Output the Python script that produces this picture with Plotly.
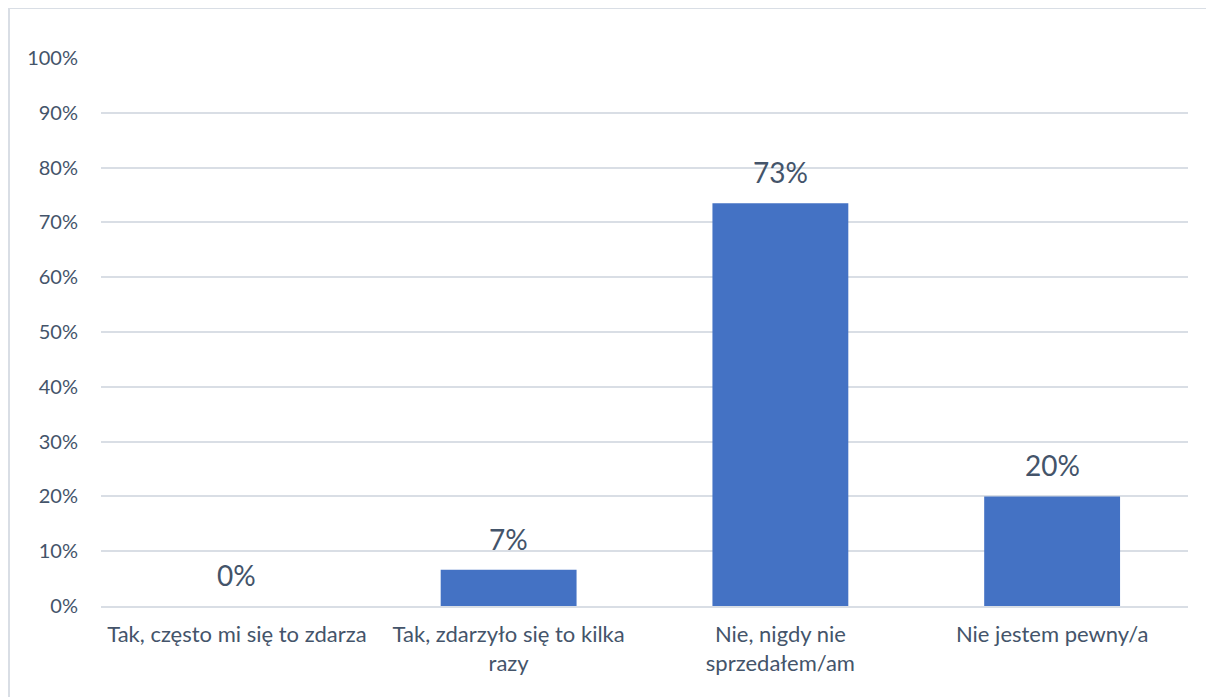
import plotly.graph_objects as go

categories = [
    "Tak, często mi się to zdarza",
    "Tak, zdarzyło się to kilka<br>razy",
    "Nie, nigdy nie<br>sprzedałem/am",
    "Nie jestem pewny/a",
]
shares = [0.0, 0.066, 0.735, 0.20]
labels = ["0%", "7%", "73%", "20%"]

TEXT = "#44546a"
GRID = "#d9dee5"
BAR = "#4472c4"
FONT = "Lato, Noto Sans, sans-serif"

fig = go.Figure(
    go.Bar(
        x=categories,
        y=shares,
        marker=dict(color=BAR, line=dict(width=0)),
        width=0.5,
        hoverinfo="x+y",
    )
)

# value labels above each bar
for cat, val, lab in zip(categories, shares, labels):
    fig.add_annotation(
        x=cat,
        y=val,
        text=lab,
        showarrow=False,
        yanchor="middle",
        yshift=31,
        font=dict(size=28, color=TEXT, family=FONT),
    )

# page body has an 8px margin, so the figure is slightly smaller
fig.update_layout(
    width=1206,
    height=689,
    margin=dict(l=93, r=26, t=50, b=91),
    paper_bgcolor="white",
    plot_bgcolor="white",
    showlegend=False,
    font=dict(family=FONT, color=TEXT, size=20),
    shapes=[
        dict(
            type="rect",
            xref="paper",
            yref="paper",
            x0=(9 - 101) / 1087,
            x1=(1240 - 101) / 1087,
            y0=(606 - 720) / 548,
            y1=(606 - 8) / 548,
            line=dict(color=GRID, width=2),
            layer="below",
        )
    ],
)
fig.update_yaxes(
    range=[0, 1],
    dtick=0.1,
    tickformat=".0%",
    gridcolor=GRID,
    gridwidth=1.5,
    zeroline=False,
    showline=False,
    ticks="",
    ticklabelstandoff=22,
    tickfont=dict(size=20, color=TEXT),
)
fig.update_xaxes(
    showline=True,
    linecolor=GRID,
    linewidth=1.5,
    ticks="",
    ticklabelstandoff=8,
    tickfont=dict(size=22, color=TEXT),
    tickangle=0,
)

fig.write_html("out.html")
